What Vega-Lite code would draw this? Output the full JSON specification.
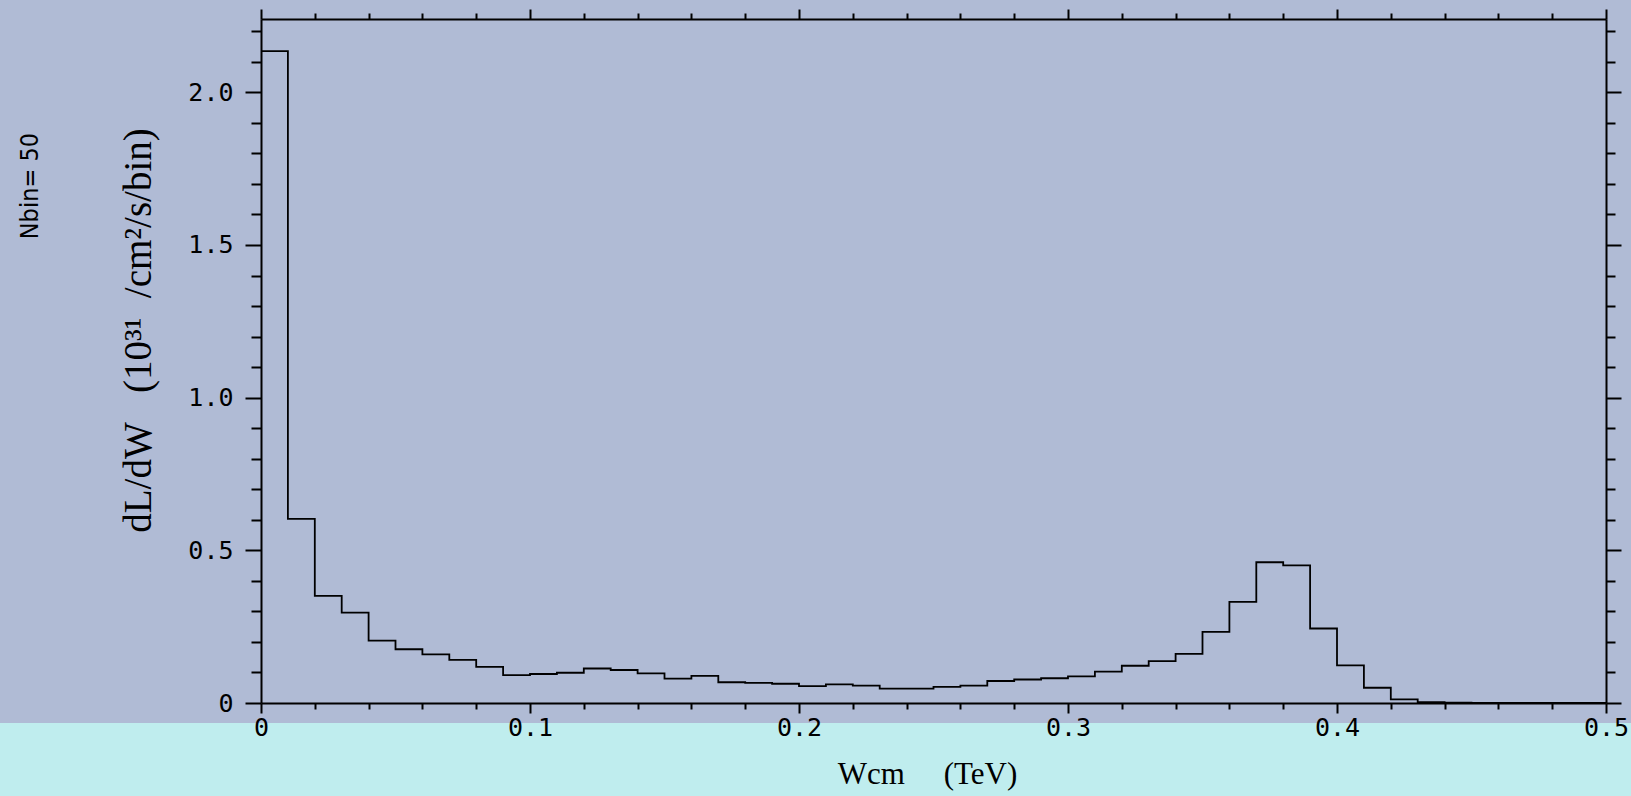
{
  "$schema": "https://vega.github.io/schema/vega-lite/v6.json",
  "width": 1345,
  "height": 684,
  "autosize": {"type": "none"},
  "padding": {"left": 261, "top": 19, "right": 25, "bottom": 93},
  "background": "#B0BBD5",
  "config": {"view": {"stroke": null}},
  "title": {
    "text": "Nbin= 50",
    "orient": "left",
    "anchor": "end",
    "frame": "group",
    "font": "Liberation Sans Narrow, DejaVu Sans Condensed, sans-serif",
    "fontSize": 25,
    "fontWeight": "normal",
    "color": "black",
    "offset": -43,
    "dx": -114
  },
  "data": {
    "values": [
      {"x": 0.00, "y": 2.135},
      {"x": 0.01, "y": 0.603},
      {"x": 0.02, "y": 0.351},
      {"x": 0.03, "y": 0.296},
      {"x": 0.04, "y": 0.204},
      {"x": 0.05, "y": 0.176},
      {"x": 0.06, "y": 0.159},
      {"x": 0.07, "y": 0.141},
      {"x": 0.08, "y": 0.118},
      {"x": 0.09, "y": 0.091},
      {"x": 0.10, "y": 0.095},
      {"x": 0.11, "y": 0.099},
      {"x": 0.12, "y": 0.113},
      {"x": 0.13, "y": 0.108},
      {"x": 0.14, "y": 0.097},
      {"x": 0.15, "y": 0.080},
      {"x": 0.16, "y": 0.089},
      {"x": 0.17, "y": 0.068},
      {"x": 0.18, "y": 0.066},
      {"x": 0.19, "y": 0.063},
      {"x": 0.20, "y": 0.055},
      {"x": 0.21, "y": 0.061},
      {"x": 0.22, "y": 0.057},
      {"x": 0.23, "y": 0.047},
      {"x": 0.24, "y": 0.047},
      {"x": 0.25, "y": 0.053},
      {"x": 0.26, "y": 0.057},
      {"x": 0.27, "y": 0.072},
      {"x": 0.28, "y": 0.077},
      {"x": 0.29, "y": 0.081},
      {"x": 0.30, "y": 0.087},
      {"x": 0.31, "y": 0.103},
      {"x": 0.32, "y": 0.122},
      {"x": 0.33, "y": 0.137},
      {"x": 0.34, "y": 0.161},
      {"x": 0.35, "y": 0.233},
      {"x": 0.36, "y": 0.331},
      {"x": 0.37, "y": 0.461},
      {"x": 0.38, "y": 0.451},
      {"x": 0.39, "y": 0.244},
      {"x": 0.40, "y": 0.123},
      {"x": 0.41, "y": 0.050},
      {"x": 0.42, "y": 0.012},
      {"x": 0.43, "y": 0.003},
      {"x": 0.44, "y": 0.001},
      {"x": 0.45, "y": 0},
      {"x": 0.46, "y": 0},
      {"x": 0.47, "y": 0},
      {"x": 0.48, "y": 0},
      {"x": 0.49, "y": 0},
      {"x": 0.50, "y": 0}
    ]
  },
  "resolve": {"axis": {"x": "independent", "y": "independent"}},
  "layer": [
    {
      "mark": {"type": "rect", "color": "#BFEDEE", "clip": false},
      "encoding": {
        "x": {
          "datum": -0.0971, "type": "quantitative",
          "scale": {"domain": [0, 0.5], "nice": false, "zero": false},
          "axis": {
            "orient": "bottom",
            "zindex": 1,
            "values": [0,0.02,0.04,0.06,0.08,0.1,0.12,0.14,0.16,0.18,0.2,0.22,0.24,0.26,0.28,0.3,0.32,0.34,0.36,0.38,0.4,0.42,0.44,0.46,0.48,0.5],
            "labelExpr": "abs(datum.value*10 - round(datum.value*10)) < 1e-6 ? (datum.value == 0 ? '0' : format(datum.value, '.1f')) : ''",
            "labelOverlap": false,
            "labelFlush": false,
            "labelBound": false,
            "labelFont": "DejaVu Sans Mono",
            "labelFontSize": 25,
            "labelColor": "black",
            "labelPadding": 2,
            "tickColor": "black",
            "tickWidth": 2,
            "tickSize": {"condition": {"test": "abs(datum.value*10 - round(datum.value*10)) < 1e-6", "value": 10}, "value": 6},
            "domainColor": "black",
            "domainWidth": 2,
            "grid": false,
            "title": "Wcm\u00a0\u00a0\u00a0\u00a0 (TeV)",
            "titleFont": "Liberation Serif",
            "titleFontSize": 31,
            "titleFontWeight": "normal",
            "titleColor": "black",
            "titleBaseline": "alphabetic",
            "titleX": 666,
            "titleY": 80
          }
        },
        "x2": {"datum": 0.52},
        "y": {
          "datum": -0.0655, "type": "quantitative",
          "scale": {"domain": [0, 2.24], "nice": false, "zero": false},
          "axis": {
            "orient": "left",
            "zindex": 1,
            "values": [0,0.1,0.2,0.3,0.4,0.5,0.6,0.7,0.8,0.9,1.0,1.1,1.2,1.3,1.4,1.5,1.6,1.7,1.8,1.9,2.0,2.1,2.2],
            "labelExpr": "abs(datum.value*2 - round(datum.value*2)) < 1e-6 ? (datum.value == 0 ? '0' : format(datum.value, '.1f')) : ''",
            "labelOverlap": false,
            "labelFlush": false,
            "labelBound": false,
            "labelFont": "DejaVu Sans Mono",
            "labelFontSize": 25,
            "labelColor": "black",
            "labelPadding": 12,
            "tickColor": "black",
            "tickWidth": 2,
            "tickSize": {"condition": {"test": "abs(datum.value*2 - round(datum.value*2)) < 1e-6", "value": 16}, "value": 10},
            "domainColor": "black",
            "domainWidth": 2,
            "grid": false,
            "title": "dL/dW\u00a0\u00a0 (10³¹\u00a0 /cm²/s/bin)",
            "titleFont": "Liberation Serif",
            "titleFontSize": 39,
            "titleFontWeight": "normal",
            "titleColor": "black",
            "titleBaseline": "alphabetic",
            "titleX": -111,
            "titleY": 311
          }
        },
        "y2": {"datum": -0.32}
      }
    },
    {
      "mark": {"type": "line", "interpolate": "step-after", "color": "black", "strokeWidth": 1.8},
      "encoding": {
        "x": {
          "field": "x", "type": "quantitative",
          "scale": {"domain": [0, 0.5], "nice": false, "zero": false},
          "axis": {
            "orient": "top",
            "zindex": 1,
            "values": [0,0.02,0.04,0.06,0.08,0.1,0.12,0.14,0.16,0.18,0.2,0.22,0.24,0.26,0.28,0.3,0.32,0.34,0.36,0.38,0.4,0.42,0.44,0.46,0.48,0.5],
            "labels": false,
            "tickColor": "black",
            "tickWidth": 2,
            "tickSize": {"condition": {"test": "abs(datum.value*10 - round(datum.value*10)) < 1e-6", "value": 10}, "value": 6},
            "domainColor": "black",
            "domainWidth": 2,
            "grid": false,
            "title": null
          }
        },
        "y": {
          "field": "y", "type": "quantitative",
          "scale": {"domain": [0, 2.24], "nice": false, "zero": false},
          "axis": {
            "orient": "right",
            "zindex": 1,
            "values": [0,0.1,0.2,0.3,0.4,0.5,0.6,0.7,0.8,0.9,1.0,1.1,1.2,1.3,1.4,1.5,1.6,1.7,1.8,1.9,2.0,2.1,2.2],
            "labels": false,
            "tickColor": "black",
            "tickWidth": 2,
            "tickSize": {"condition": {"test": "abs(datum.value*2 - round(datum.value*2)) < 1e-6", "value": 15}, "value": 9},
            "domainColor": "black",
            "domainWidth": 2,
            "grid": false,
            "title": null
          }
        }
      }
    }
  ]
}
